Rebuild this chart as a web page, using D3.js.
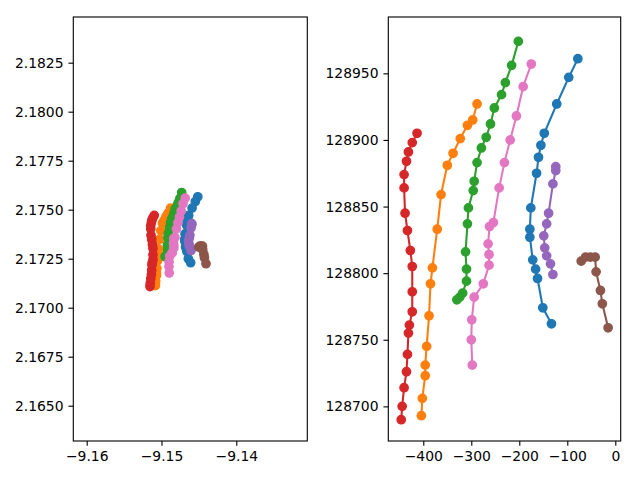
<!DOCTYPE html>
<html>
<head>
<meta charset="utf-8">
<script src="https://cdn.jsdelivr.net/npm/d3@7"></script>
<style>
  body { margin: 0; background: #fff; }
  svg { font-family: "DejaVu Sans", sans-serif; }
</style>
</head>
<body>
<div class="chart"></div>
<script>
// tracks, local metric coords (x, y)
const blueTrack = [[-78,128961],[-97,128947],[-122,128927],[-148,128905],[-155,128896],[-160,128887],[-164,128875],[-176,128849],[-178,128833],[-178,128827],[-172,128810],[-166,128803],[-162,128796],[-151,128774],[-133,128762]];
const orangeTrack = [[-288,128927],[-297,128915],[-308,128911],[-323,128901],[-338,128890],[-350,128881],[-363,128859],[-371,128833],[-381,128804],[-385,128792],[-388,128768],[-393,128745],[-396,128731],[-396,128723],[-402,128706],[-404,128693]];
const greenTrack = [[-202,128974],[-216,128956],[-229,128943],[-237,128934],[-252,128924],[-260,128912],[-269,128902],[-279,128894],[-288,128883],[-294,128869],[-296,128862],[-306,128849],[-308,128837],[-312,128816],[-310,128803],[-310,128794],[-318,128785],[-324,128782],[-330,128780]];
const redTrack = [[-413,128905],[-423,128898],[-431,128891],[-435,128884],[-440,128874],[-440,128864],[-438,128845],[-433,128832],[-427,128817],[-423,128805],[-423,128786],[-423,128771],[-429,128761],[-431,128755],[-433,128739],[-435,128726],[-440,128714],[-444,128700],[-446,128690]];
const purpleTrack = [[-124,128880],[-124,128877],[-130,128867],[-139,128845],[-143,128837],[-149,128828],[-147,128819],[-143,128813],[-135,128807],[-130,128799]];
const brownTrack = [[-71,128809],[-62,128812],[-52,128812],[-42,128812],[-40,128801],[-31,128787],[-27,128777],[-15,128759]];
const pinkTrack = [[-175,128957],[-192,128940],[-206,128918],[-219,128900],[-231,128883],[-242,128864],[-254,128838],[-262,128835],[-265,128822],[-263,128814],[-263,128806],[-275,128792],[-294,128782],[-299,128765],[-300,128750],[-298,128731]];

const tracks = [blueTrack, orangeTrack, greenTrack, redTrack, purpleTrack, brownTrack, pinkTrack];
const colors = ['#1f77b4','#ff7f0e','#2ca02c','#d62728','#9467bd','#8c564b','#e377c2'];

// same tracks, converted to the left plot's units
const toLeft = p => [-9.15154 + (p[0] + 446) * 1.737e-5, 2.17108 + (p[1] - 128690) * 1.689e-5];

const leftXTicks = [-9.16, -9.15, -9.14];
const leftYTicks = [2.165, 2.1675, 2.17, 2.1725, 2.175, 2.1775, 2.18, 2.1825];
const rightXTicks = [-400, -300, -200, -100, 0];
const rightYTicks = [128700, 128750, 128800, 128850, 128900, 128950];

const svg = d3.select('.chart').append('svg')
  .attr('width', 640)
  .attr('height', 480);

function panel(left, right, xDomain, yDomain, xTicks, yTicks, xFmt, yFmt, data) {
  const x = d3.scaleLinear().domain(xDomain).range([left, right]);
  const y = d3.scaleLinear().domain(yDomain).range([441, 17]);
  const g = svg.append('g');

  data.forEach((pts, i) => {
    g.append('path')
      .attr('d', d3.line().x(d => x(d[0])).y(d => y(d[1]))(pts))
      .style('fill', 'none')
      .style('stroke', colors[i])
      .style('stroke-width', 2.08)
      .style('stroke-linejoin', 'round')
      .style('stroke-linecap', 'square');
    g.selectAll(null).data(pts).enter().append('circle')
      .attr('cx', d => x(d[0]))
      .attr('cy', d => y(d[1]))
      .attr('r', 4.17)
      .style('fill', colors[i])
      .style('stroke', colors[i])
      .style('stroke-width', 1.39);
  });

  const xAxis = g.append('g')
    .attr('transform', 'translate(0,441)')
    .call(d3.axisBottom(x).tickValues(xTicks).tickFormat(xFmt).tickSize(4.86).tickPadding(4.9));
  const yAxis = g.append('g')
    .attr('transform', `translate(${left},0)`)
    .call(d3.axisLeft(y).tickValues(yTicks).tickFormat(yFmt).tickSize(4.86).tickPadding(4.9));
  [xAxis, yAxis].forEach(a => {
    a.select('.domain').remove();
    a.selectAll('line').style('stroke', '#000').style('stroke-width', 1.11);
    a.selectAll('text').style('font-size', '13.9px').style('fill', '#000')
      .style('font-family', '"DejaVu Sans", sans-serif');
  });

  g.append('rect')
    .attr('x', left)
    .attr('y', 17)
    .attr('width', right - left)
    .attr('height', 424)
    .style('fill', 'none')
    .style('stroke', '#000')
    .style('stroke-width', 1.11);
}

panel(73.3, 307.3, [-9.16179, -9.13051], [2.16320, 2.18483],
  leftXTicks, leftYTicks, d3.format('.2f'), d3.format('.4f'),
  tracks.map(t => t.map(toLeft)));

panel(388.3, 620.7, [-472.9, 11.25], [128674, 128992.3],
  rightXTicks, rightYTicks, d3.format('d'), d3.format('d'),
  tracks);
</script>
</body>
</html>
